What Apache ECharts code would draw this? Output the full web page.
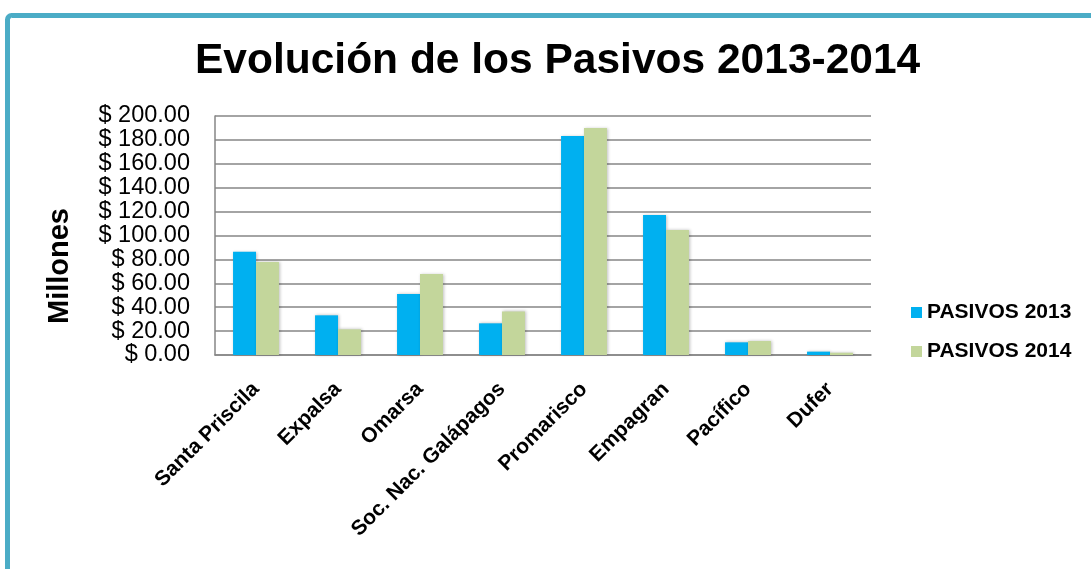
<!DOCTYPE html>
<html>
<head>
<meta charset="utf-8">
<script src="https://cdn.jsdelivr.net/npm/echarts@6/dist/echarts.min.js"></script>
<style>
html,body{margin:0;padding:0;background:#fff;}
#chart{width:1091px;height:569px;}
</style>
</head>
<body>
<div id="chart"></div>
<script>
const categories = ['Santa Priscila','Expalsa','Omarsa','Soc. Nac. Galápagos','Promarisco','Empagran','Pacífico','Dufer'];
const pasivos2013 = [86.4, 33.2, 51.0, 26.5, 183.3, 117.2, 10.6, 2.8];
const pasivos2014 = [77.8, 21.5, 67.8, 36.5, 190.0, 104.6, 11.7, 1.9];
const seriesNames = ['PASIVOS 2013','PASIVOS 2014'];
const yMin = 0, yMax = 200, yStep = 20;

const chart = echarts.init(document.getElementById('chart'));
const font = '"Liberation Sans", Arial, sans-serif';
const shadow = {shadowColor:'rgba(0,0,0,0.25)', shadowBlur:3, shadowOffsetX:1, shadowOffsetY:0};
chart.setOption({
  animation:false,
  backgroundColor:'#fff',
  graphic:[{
    type:'rect', left:5, top:13, shape:{width:1200,height:700,r:4},
    style:{fill:'none', stroke:'#4BACC6', lineWidth:5}, z:-1
  },{
    type:'text', left:45, top:208, rotation:Math.PI/2,
    style:{text:'Millones', font:'bold 29px '+font, fill:'#000'}
  }],
  title:{
    text:'Evolución de los Pasivos 2013-2014', left:190, top:35,
    textStyle:{fontFamily:font, fontWeight:'bold', fontSize:42.5, color:'#000'}
  },
  legend:{
    orient:'vertical', left:906, top:297, itemWidth:11, itemHeight:11, itemGap:18,
    icon:'rect', textStyle:{fontFamily:font, fontWeight:'bold', fontSize:21, color:'#000'},
    data:seriesNames
  },
  grid:{left:215, right:220, top:116, bottom:214},
  xAxis:{
    type:'category', data:categories,
    axisLine:{lineStyle:{color:'#868686', width:1.5}},
    axisTick:{show:false},
    axisLabel:{rotate:45, interval:0, margin:31, fontFamily:font, fontWeight:'bold', fontSize:21, color:'#000'}
  },
  yAxis:{
    type:'value', min:yMin, max:yMax, interval:yStep,
    axisLine:{show:true, lineStyle:{color:'#868686', width:1.5}},
    axisTick:{show:false},
    splitLine:{lineStyle:{color:'#868686', width:1.5}},
    axisLabel:{margin:25, fontFamily:font, fontSize:23.5, color:'#000',
      formatter:v=>'$ '+v.toFixed(2)}
  },
  series:[
    {name:seriesNames[0], type:'bar', data:pasivos2013, barGap:'0%', barCategoryGap:'44%',
     itemStyle:Object.assign({color:'#00B0F0'}, shadow)},
    {name:seriesNames[1], type:'bar', data:pasivos2014,
     itemStyle:Object.assign({color:'#C3D69B'}, shadow)}
  ]
});
</script>
</body>
</html>
